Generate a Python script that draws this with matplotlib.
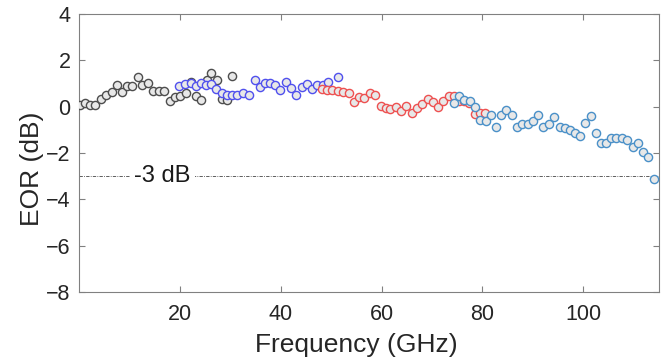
import matplotlib
matplotlib.use("Agg")
import matplotlib.pyplot as plt

plt.rcParams['font.family'] = ['Liberation Sans', 'DejaVu Sans']

# Series 1 (gray)
f1 = [0.26, 1.19, 2.24, 3.17, 4.36, 5.35, 6.48, 7.66, 8.65, 9.50, 10.63, 11.74, 12.61,
      13.72, 14.79, 15.90, 16.89, 18.08, 19.01, 20.06, 21.19, 22.18, 23.17, 24.26,
      25.35, 26.28, 27.33, 28.46, 29.45, 30.44]
v1 = [0.08, 0.18, 0.08, 0.08, 0.32, 0.51, 0.65, 0.94, 0.65, 0.90, 0.90, 1.30, 0.94,
      1.01, 0.68, 0.68, 0.68, 0.25, 0.41, 0.48, 0.59, 1.08, 0.46, 0.27,
      1.16, 1.47, 1.16, 0.32, 0.29, 1.32]

# Series 2 (blue)
f2 = [19.86, 21.09, 22.18, 23.17, 24.16, 25.25, 26.24, 27.23, 28.32, 29.31, 30.30,
      31.39, 32.48, 33.66, 34.85, 35.84, 36.83, 37.82, 38.87, 39.90, 40.99, 41.98,
      43.07, 44.16, 45.21, 46.24, 47.27, 48.32, 49.41, 51.35]
v2 = [0.90, 0.98, 1.01, 0.88, 1.04, 0.94, 0.96, 0.75, 0.58, 0.51, 0.51,
      0.49, 0.59, 0.51, 1.16, 0.83, 1.01, 1.01, 0.94, 0.70, 1.07, 0.81,
      0.49, 0.87, 1.00, 0.75, 0.94, 0.94, 1.08, 1.26]

# Series 3 (red)
f3 = [48.26, 49.25, 50.24, 51.35, 52.42, 53.52, 54.55, 55.50, 56.53, 57.68, 58.71,
      59.80, 60.79, 61.78, 62.97, 63.92, 64.95, 66.08, 67.13, 68.06, 69.15, 70.20,
      71.19, 72.28, 73.33, 74.32, 75.31, 76.30, 77.43, 78.51, 79.60, 80.59]
v3 = [0.75, 0.74, 0.71, 0.67, 0.62, 0.59, 0.21, 0.42, 0.38, 0.59, 0.50,
      0.02, -0.05, -0.12, -0.03, -0.19, 0.04, -0.28, -0.06, 0.12, 0.33, 0.20,
      -0.02, 0.25, 0.46, 0.46, 0.25, 0.26, 0.16, -0.31, -0.27, -0.28]

# Series 4 (light blue)
f4 = [74.32, 75.45, 76.44, 77.49, 78.61, 79.60, 80.69, 81.78, 82.77, 83.76, 84.75,
      85.88, 86.87, 87.86, 88.97, 90.04, 91.03, 92.02, 93.13, 94.26, 95.31, 96.30,
      97.29, 98.32, 99.41, 100.40, 101.52, 102.57, 103.50, 104.55, 105.54, 106.53,
      107.66, 108.65, 109.84, 110.83, 111.82, 112.81, 113.92]
v4 = [0.18, 0.47, 0.28, 0.26, 0.00, -0.57, -0.60, -0.35, -0.86, -0.38, -0.16,
      -0.35, -0.86, -0.74, -0.74, -0.60, -0.35, -0.86, -0.76, -0.43, -0.86, -0.93,
      -1.02, -1.12, -1.27, -0.71, -0.40, -1.14, -1.55, -1.57, -1.36, -1.36,
      -1.36, -1.46, -1.72, -1.55, -1.94, -2.18, -3.11]

ref_level = -3
ref_label = "-3 dB"
xticks = [20, 40, 60, 80, 100]
yticks = [4, 2, 0, -2, -4, -6, -8]

fig = plt.figure(figsize=(6.68, 3.6), dpi=100)
ax = fig.add_axes([0.118, 0.189, 0.8685, 0.772])

ax.axhline(ref_level, color='#444444', lw=0.6, ls=(0, (4, 1.5, 1, 1.5)), zorder=1)
ax.text(16.6, ref_level, ref_label, ha='center', va='center', fontsize=17,
        color='#1a1a1a', bbox=dict(facecolor='white', edgecolor='none', pad=3), zorder=2)

fill = '#e8e8e8'
ms = 5.9
mew = 1.0
ax.plot(f1, v1, 'o', ms=ms, mfc=fill, mec='#4d4d4d', mew=mew, ls='none', zorder=3)
ax.plot(f2, v2, 'o', ms=ms, mfc=fill, mec='#5050ee', mew=mew, ls='none', zorder=4)
ax.plot(f3, v3, 'o', ms=ms, mfc=fill, mec='#ee5050', mew=mew, ls='none', zorder=5)
ax.plot(f4, v4, 'o', ms=ms, mfc=fill, mec='#4a90c8', mew=mew, ls='none', zorder=6)

ax.set_xlim(0, 115)
ax.set_ylim(-8, 4)
ax.set_xticks(xticks)
ax.set_yticks(yticks)
ax.tick_params(direction='in', length=4, width=0.8, colors='#808080',
               labelcolor='#262626', labelsize=15.5, top=True, right=True)
ax.tick_params(axis='x', pad=9)
ax.tick_params(axis='y', pad=6)
for s in ax.spines.values():
    s.set_color('#808080')
    s.set_linewidth(0.8)
ax.set_xlabel('Frequency (GHz)', fontsize=19, color='#262626')
ax.set_ylabel('EOR (dB)', fontsize=19, color='#262626')
ax.xaxis.label.set_verticalalignment('center')
ax.yaxis.label.set_verticalalignment('center')
ax.yaxis.label.set_horizontalalignment('center')
ax.xaxis.set_label_coords(0.478, -0.19)
ax.yaxis.set_label_coords(-0.081, 0.442)

fig.savefig('out.png', dpi=100)
